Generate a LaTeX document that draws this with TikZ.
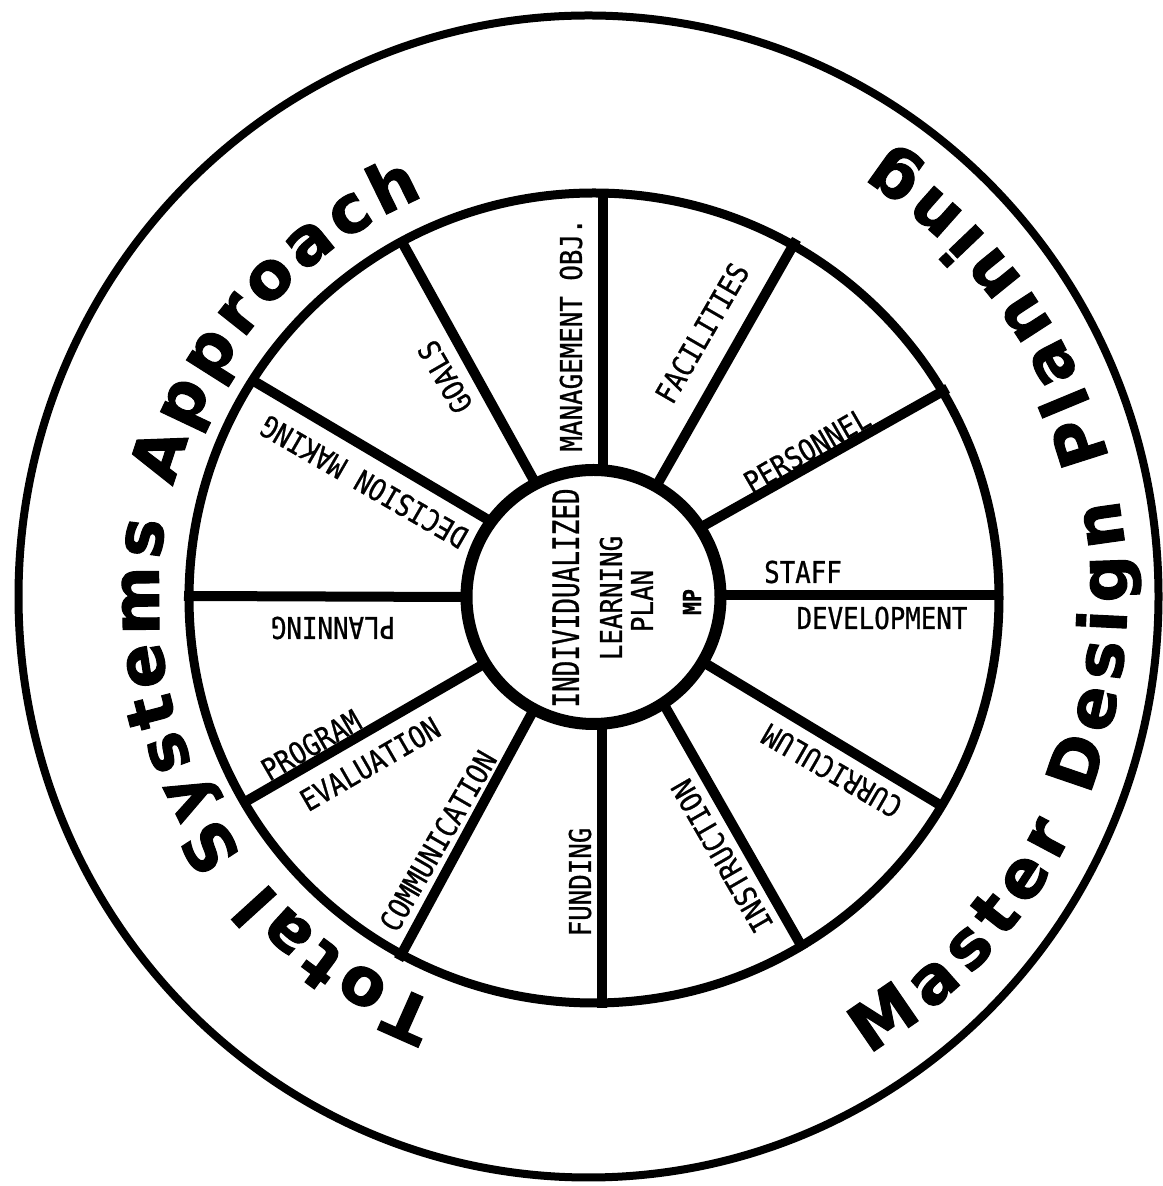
\documentclass[tikz,border=0pt]{standalone}
\usepackage{fontspec}
\usetikzlibrary{decorations.text}
\newfontfamily\labfont{DejaVu Sans Mono}[FakeStretch=0.86,FakeBold=0.8]
\newfontfamily\ringfont{DejaVu Sans Bold}[FakeBold=1.6]
\begin{document}
\begin{tikzpicture}[x=1pt,y=1pt,
  spoke/.style={line width=10pt,shorten <=-12pt,shorten >=-3pt},
  lab/.style={inner sep=0pt,font=\labfont\fontsize{30}{30}\selectfont},
  hubtxt/.style={inner sep=0pt,font=\labfont\fontsize{30}{30}\selectfont,rotate=90},
  ringtext/.style={decorate,decoration={text along path,text align={fit to path},
     text={|\ringfont\fontsize{66}{66}\selectfont|#1}}}]
\useasboundingbox[fill=white] (0,0) rectangle (1162,1186);
% spokes
\draw[spoke] (603,716) -- (603,994);
\draw[spoke] (532,709) -- (402,944);
\draw[spoke] (485,668) -- (252,806);
\draw[spoke] (460,589) -- (187,590);
\draw[spoke] (477,518) -- (245,384);
\draw[spoke] (532,473) -- (400,229);
\draw[spoke] (602,456) -- (602,181);
\draw[spoke] (667,476) -- (802,239);
\draw[spoke] (708,521) -- (940,381);
\draw[spoke] (727,591) -- (1000,591);
\draw[spoke] (705,661) -- (945,796);
\draw[spoke] (658,703) -- (795,944);
% hub, rim, outer ring
\node[circle,draw,fill=white,line width=12pt,minimum size=254pt,inner sep=0pt] (hub) at (593.5,589) {};
\draw[line width=9pt] (594,588) circle[radius=405];
\draw[line width=8pt] (588.5,589.5) ellipse[x radius=570,y radius=581];
% sector labels
\node[lab,rotate=90]  (mgmt) at (571,851) {MANAGEMENT OBJ.};
\node[lab,rotate=120] (goals) at (445,809) {GOALS};
\node[lab,rotate=150] (dec) at (364,704) {DECISION MAKING};
\node[lab,rotate=180] (plng) at (333,558) {PLANNING};
\node[lab,rotate=30]  (prog) at (311,441) {PROGRAM};
\node[lab,rotate=30]  (eval) at (370,422) {EVALUATION};
\node[lab,rotate=60]  (comm) at (438,345) {COMMUNICATION};
\node[lab,rotate=90]  (fund) at (580,304) {FUNDING};
\node[lab,rotate=120] (instr) at (722,330) {INSTRUCTION};
\node[lab,rotate=150] (curr) at (832,415) {CURRICULUM};
\node[lab]            (staff) at (803,614) {STAFF};
\node[lab]            (devel) at (882,568) {DEVELOPMENT};
\node[lab,rotate=30]  (pers) at (807,736) {PERSONNEL};
\node[lab,rotate=60]  (fac) at (702,853) {FACILITIES};
% hub text
\node[hubtxt] (ind) at (566,588) {\scalebox{0.84}[1]{\fontsize{36}{36}\selectfont INDIVIDUALIZED}};
\node[hubtxt] (learn) at (611,588) {LEARNING};
\node[hubtxt] (plan) at (642,585) {PLAN};
\node[hubtxt,font=\labfont\bfseries\fontsize{25}{25}\selectfont] (mp) at (692,584) {MP};
% ring text
\path[ringtext={Total Systems Approach},shift={(594,589)}] (249:435) arc[start angle=249,end angle=113,radius=435];
\path[ringtext={Master Design Planning},shift={(594,589)}] (-59:533) arc[start angle=-59,end angle=57,radius=533];
\end{tikzpicture}
\end{document}
